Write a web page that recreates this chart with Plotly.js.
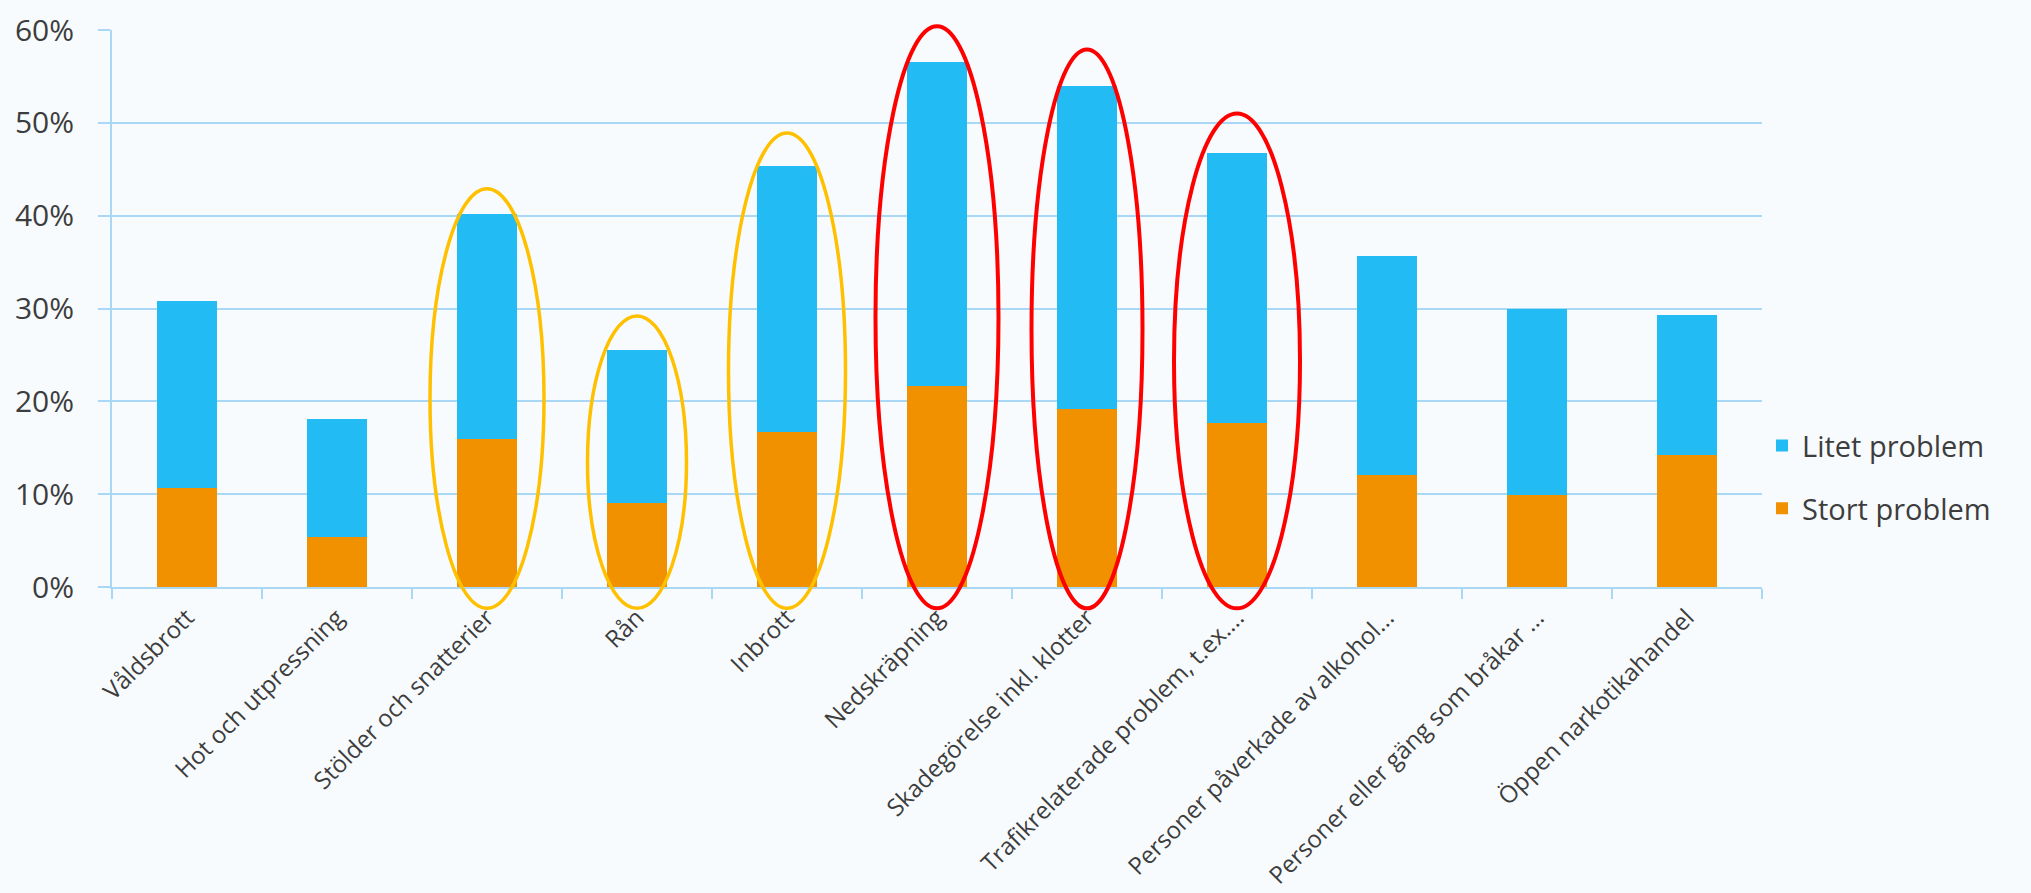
<!DOCTYPE html>
<html>
<head>
<meta charset="utf-8">
<script src="https://cdn.plot.ly/plotly-3.0.1.min.js"></script>
<style>
  html, body { margin: 0; padding: 0; background: #F8FBFD; }
  #chart { width: 2031px; height: 893px; }
</style>
</head>
<body>
<div id="chart"></div>
<script>
// ---- Data ----
const categories = [
  'Våldsbrott',
  'Hot och utpressning',
  'Stölder och snatterier',
  'Rån',
  'Inbrott',
  'Nedskräpning',
  'Skadegörelse inkl. klotter',
  'Trafikrelaterade problem, t.ex....',
  'Personer påverkade av alkohol...',
  'Personer eller gäng som bråkar ...',
  'Öppen narkotikahandel'
];
const stortProblem = [0.107, 0.054, 0.159, 0.090, 0.167, 0.217, 0.192, 0.177, 0.121, 0.099, 0.142];
const litetProblem = [0.201, 0.127, 0.243, 0.165, 0.287, 0.348, 0.348, 0.290, 0.236, 0.201, 0.151];
const seriesNames = ['Stort problem', 'Litet problem'];
const yTickValues = [0, 0.1, 0.2, 0.3, 0.4, 0.5, 0.6];
const yTickLabels = ['0%', '10%', '20%', '30%', '40%', '50%', '60%'];
const yellowHighlights = ['Stölder och snatterier', 'Rån', 'Inbrott'];
const redHighlights = ['Nedskräpning', 'Skadegörelse inkl. klotter', 'Trafikrelaterade problem, t.ex....'];

// ---- Styles ----
const colorStort = '#F29100';
const colorLitet = '#23BBF4';
const gridColor = '#A9D8F6';
const textColor = '#3D3D3D';
const fontFamily = '"Open Sans", "Noto Sans", sans-serif';
const yRange = [0, 0.6];
const ellipseStyle = {
  'Stölder och snatterier': {hw: 0.38, pad: 0.027},
  'Rån': {hw: 0.33, pad: 0.037},
  'Inbrott': {hw: 0.39, pad: 0.035},
  'Nedskräpning': {hw: 0.41, pad: 0.039},
  'Skadegörelse inkl. klotter': {hw: 0.37, pad: 0.039},
  'Trafikrelaterade problem, t.ex....': {hw: 0.42, pad: 0.043}
};
const ellipseBottom = -0.023;

function toPaper(v) { return (v - yRange[0]) / (yRange[1] - yRange[0]); }

function ellipseShapes(list, color, width) {
  return list.map(function (name) {
    const i = categories.indexOf(name);
    const total = stortProblem[i] + litetProblem[i];
    const st = ellipseStyle[name];
    return {
      type: 'circle', xref: 'x', yref: 'paper',
      x0: i - st.hw, x1: i + st.hw,
      y0: toPaper(ellipseBottom), y1: toPaper(total + st.pad),
      line: {color: color, width: width},
      fillcolor: 'rgba(0,0,0,0)', layer: 'above'
    };
  });
}

const traces = [
  {
    type: 'bar', name: seriesNames[0], x: categories, y: stortProblem,
    marker: {color: colorStort}, legendgroup: 'a', legendrank: 2, hoverinfo: 'x+y'
  },
  {
    type: 'bar', name: seriesNames[1], x: categories, y: litetProblem,
    marker: {color: colorLitet}, legendgroup: 'b', legendrank: 1, hoverinfo: 'x+y'
  }
];

const layout = {
  width: 2031, height: 893,
  paper_bgcolor: '#F8FBFD', plot_bgcolor: '#F8FBFD',
  margin: {l: 112, r: 269, t: 30, b: 306},
  barmode: 'stack', bargap: 0.6,
  font: {family: fontFamily, color: textColor},
  xaxis: {
    type: 'category', range: [-0.5, categories.length - 0.5],
    showline: true, linecolor: gridColor, linewidth: 2,
    ticks: 'outside', tickson: 'boundaries', ticklen: 10, tickcolor: gridColor, tickwidth: 2,
    tickangle: -45, tickfont: {size: 24, color: textColor, family: fontFamily},
    showgrid: false, ticklabelstandoff: 5
  },
  yaxis: {
    range: yRange, tickvals: yTickValues, ticktext: yTickLabels,
    showgrid: true, gridcolor: gridColor, gridwidth: 2,
    showline: true, linecolor: gridColor, linewidth: 2,
    ticks: 'outside', ticklen: 12, tickcolor: gridColor, tickwidth: 2,
    tickfont: {size: 30, color: textColor, family: fontFamily},
    ticklabelstandoff: 18, zeroline: false
  },
  legend: {
    x: 1.0, xanchor: 'left', y: 0.197, yanchor: 'middle',
    traceorder: 'grouped', tracegroupgap: 22,
    font: {size: 29, color: textColor, family: fontFamily},
    bgcolor: 'rgba(0,0,0,0)', itemwidth: 30
  },
  shapes: ellipseShapes(yellowHighlights, '#FFC000', 3.5).concat(ellipseShapes(redHighlights, '#FF0000', 4)),
  showlegend: true
};

Plotly.newPlot('chart', traces, layout, {displayModeBar: false, staticPlot: true});
</script>
</body>
</html>
